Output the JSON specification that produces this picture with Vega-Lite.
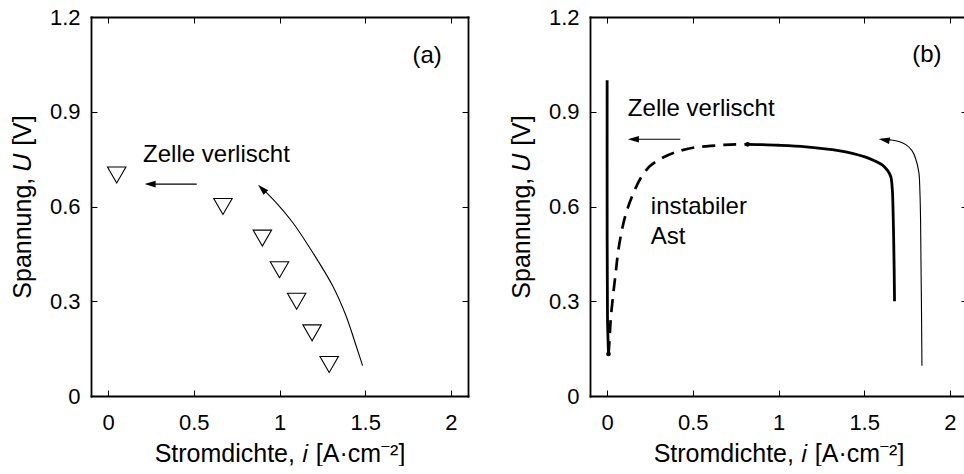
{
  "$schema": "https://vega.github.io/schema/vega-lite/v6.json",
  "padding": {"left": 10, "top": 6, "right": 0, "bottom": 0},
  "spacing": 40,
  "config": {
    "font": "Liberation Sans",
    "view": {"stroke": null},
    "axis": {
      "grid": false,
      "domainColor": "#000",
      "domainWidth": 1.8,
      "domainCap": "square",
      "tickColor": "#000",
      "tickWidth": 1,
      "tickSize": -6,
      "labelColor": "#000",
      "labelFont": "Liberation Sans",
      "labelFontSize": 22,
      "titleColor": "#000",
      "titleFont": "Liberation Sans",
      "titleFontSize": 25,
      "titleFontWeight": "normal"
    },
    "axisBottom": {"labelPadding": 22, "titlePadding": 8},
    "axisLeft": {"labelPadding": 17, "titlePadding": 14},
    "axisTop": {"labels": false},
    "axisRight": {"labels": false}
  },
  "hconcat": [
    {
      "width": 377,
      "height": 379,
      "layer": [
        {
          "data": {"values": [
            {"i": 0.05, "U": 0.7},
            {"i": 0.67, "U": 0.6},
            {"i": 0.9, "U": 0.5},
            {"i": 1.0, "U": 0.4},
            {"i": 1.1, "U": 0.3},
            {"i": 1.19, "U": 0.2},
            {"i": 1.29, "U": 0.1}
          ]},
          "mark": {"type": "point", "shape": "triangle-down", "filled": false, "stroke": "#000", "strokeWidth": 1.1, "size": 340, "opacity": 1},
          "encoding": {
            "x": {"field": "i", "type": "quantitative", "scale": {"domain": [-0.1, 2.1], "nice": false, "zero": false},
                  "axis": {"orient": "bottom", "values": [0, 0.5, 1, 1.5, 2], "format": "~g", "title": "Stromdichte, 𝑖 [A·cm⁻²]"}},
            "y": {"field": "U", "type": "quantitative", "scale": {"domain": [0, 1.2], "nice": false, "zero": false},
                  "axis": {"orient": "left", "values": [0, 0.3, 0.6, 0.9, 1.2], "format": "~g", "title": "Spannung, 𝑈 [V]"}}
          }
        },
        {
          "data": {"values": [
            {"pfeil": "verlischt", "k": 1, "i": 0.517, "U": 0.671},
            {"pfeil": "verlischt", "k": 2, "i": 0.23, "U": 0.671},
            {"pfeil": "kurve", "k": 1, "i": 1.485, "U": 0.096},
            {"pfeil": "kurve", "k": 2, "i": 1.447, "U": 0.159},
            {"pfeil": "kurve", "k": 3, "i": 1.388, "U": 0.254},
            {"pfeil": "kurve", "k": 4, "i": 1.31, "U": 0.349},
            {"pfeil": "kurve", "k": 5, "i": 1.193, "U": 0.455},
            {"pfeil": "kurve", "k": 6, "i": 1.076, "U": 0.55},
            {"pfeil": "kurve", "k": 7, "i": 0.979, "U": 0.613},
            {"pfeil": "kurve", "k": 8, "i": 0.895, "U": 0.659}
          ]},
          "mark": {"type": "line", "color": "#000", "strokeWidth": 1.1, "interpolate": "catmull-rom"},
          "encoding": {
            "x": {"field": "i", "type": "quantitative", "scale": {"domain": [-0.1, 2.1], "nice": false, "zero": false},
                  "axis": {"orient": "top", "values": [0, 0.5, 1, 1.5, 2], "title": null, "labels": false}},
            "y": {"field": "U", "type": "quantitative", "scale": {"domain": [0, 1.2], "nice": false, "zero": false},
                  "axis": {"orient": "right", "values": [0, 0.3, 0.6, 0.9, 1.2], "title": null, "labels": false}},
            "detail": {"field": "pfeil"},
            "order": {"field": "k", "type": "quantitative"}
          }
        },
        {
          "data": {"values": [{"i": 0.213, "U": 0.671}]},
          "mark": {"type": "point", "shape": "M0,0L2,-0.6L2,0.6Z", "filled": true, "color": "#000", "opacity": 1, "size": 121, "angle": 0},
          "encoding": {
            "x": {"field": "i", "type": "quantitative", "scale": {"domain": [-0.1, 2.1], "nice": false, "zero": false}, "axis": null},
            "y": {"field": "U", "type": "quantitative", "scale": {"domain": [0, 1.2], "nice": false, "zero": false}, "axis": null}
          }
        },
        {
          "data": {"values": [{"i": 0.875, "U": 0.669}]},
          "mark": {"type": "point", "shape": "M0,0L2,-0.6L2,0.6Z", "filled": true, "color": "#000", "opacity": 1, "size": 121, "angle": 45},
          "encoding": {
            "x": {"field": "i", "type": "quantitative", "scale": {"domain": [-0.1, 2.1], "nice": false, "zero": false}, "axis": null},
            "y": {"field": "U", "type": "quantitative", "scale": {"domain": [0, 1.2], "nice": false, "zero": false}, "axis": null}
          }
        },
        {
          "data": {"values": [
            {"text": "Zelle verlischt", "i": 0.204, "U": 0.741},
            {"text": "(a)", "i": 1.776, "U": 1.054}
          ]},
          "mark": {"type": "text", "align": "left", "baseline": "alphabetic", "fontSize": 24, "color": "#000"},
          "encoding": {
            "x": {"field": "i", "type": "quantitative", "scale": {"domain": [-0.1, 2.1], "nice": false, "zero": false}, "axis": null},
            "y": {"field": "U", "type": "quantitative", "scale": {"domain": [0, 1.2], "nice": false, "zero": false}, "axis": null},
            "text": {"field": "text"}
          }
        }
      ]
    },
    {
      "width": 377,
      "height": 379,
      "layer": [
        {
          "data": {"values": [
            {"zweig": "senkrecht", "k": 1, "i": 0.0, "U": 1.0},
            {"zweig": "senkrecht", "k": 2, "i": 0.0, "U": 0.6},
            {"zweig": "senkrecht", "k": 3, "i": 0.002, "U": 0.25},
            {"zweig": "senkrecht", "k": 4, "i": 0.008, "U": 0.133},
            {"zweig": "stabil", "k": 1, "i": 0.82, "U": 0.797},
            {"zweig": "stabil", "k": 2, "i": 1.0, "U": 0.794},
            {"zweig": "stabil", "k": 3, "i": 1.16, "U": 0.789},
            {"zweig": "stabil", "k": 4, "i": 1.35, "U": 0.777},
            {"zweig": "stabil", "k": 5, "i": 1.5, "U": 0.758},
            {"zweig": "stabil", "k": 6, "i": 1.56, "U": 0.745},
            {"zweig": "stabil", "k": 7, "i": 1.605, "U": 0.732},
            {"zweig": "stabil", "k": 8, "i": 1.635, "U": 0.715},
            {"zweig": "stabil", "k": 9, "i": 1.655, "U": 0.695},
            {"zweig": "stabil", "k": 10, "i": 1.664, "U": 0.655},
            {"zweig": "stabil", "k": 11, "i": 1.668, "U": 0.6},
            {"zweig": "stabil", "k": 12, "i": 1.672, "U": 0.5},
            {"zweig": "stabil", "k": 13, "i": 1.675, "U": 0.4},
            {"zweig": "stabil", "k": 14, "i": 1.677, "U": 0.3}
          ]},
          "mark": {"type": "line", "color": "#000", "strokeWidth": 2.8, "interpolate": "catmull-rom"},
          "encoding": {
            "x": {"field": "i", "type": "quantitative", "scale": {"domain": [-0.1, 2.1], "nice": false, "zero": false},
                  "axis": {"orient": "bottom", "values": [0, 0.5, 1, 1.5, 2], "format": "~g", "title": "Stromdichte, 𝑖 [A·cm⁻²]"}},
            "y": {"field": "U", "type": "quantitative", "scale": {"domain": [0, 1.2], "nice": false, "zero": false},
                  "axis": {"orient": "left", "values": [0, 0.3, 0.6, 0.9, 1.2], "format": "~g", "title": "Spannung, 𝑈 [V]"}},
            "detail": {"field": "zweig"},
            "order": {"field": "k", "type": "quantitative"}
          }
        },
        {
          "data": {"values": [
            {"k": 1, "i": 0.008, "U": 0.133},
            {"k": 2, "i": 0.013, "U": 0.17},
            {"k": 3, "i": 0.021, "U": 0.244},
            {"k": 4, "i": 0.035, "U": 0.32},
            {"k": 5, "i": 0.05, "U": 0.39},
            {"k": 6, "i": 0.065, "U": 0.46},
            {"k": 7, "i": 0.092, "U": 0.54},
            {"k": 8, "i": 0.12, "U": 0.595},
            {"k": 9, "i": 0.15, "U": 0.638},
            {"k": 10, "i": 0.196, "U": 0.69},
            {"k": 11, "i": 0.25, "U": 0.728},
            {"k": 12, "i": 0.315, "U": 0.752},
            {"k": 13, "i": 0.4, "U": 0.772},
            {"k": 14, "i": 0.5, "U": 0.786},
            {"k": 15, "i": 0.626, "U": 0.793},
            {"k": 16, "i": 0.72, "U": 0.796},
            {"k": 17, "i": 0.82, "U": 0.797}
          ]},
          "mark": {"type": "line", "color": "#000", "strokeWidth": 2.7, "strokeDash": [13, 8], "interpolate": "catmull-rom"},
          "encoding": {
            "x": {"field": "i", "type": "quantitative", "scale": {"domain": [-0.1, 2.1], "nice": false, "zero": false},
                  "axis": {"orient": "top", "values": [0, 0.5, 1, 1.5, 2], "title": null, "labels": false}},
            "y": {"field": "U", "type": "quantitative", "scale": {"domain": [0, 1.2], "nice": false, "zero": false},
                  "axis": {"orient": "right", "values": [0, 0.3, 0.6, 0.9, 1.2], "title": null, "labels": false}},
            "order": {"field": "k", "type": "quantitative"}
          }
        },
        {
          "data": {"values": [
            {"i": 0.008, "U": 0.133},
            {"i": 0.82, "U": 0.797}
          ]},
          "mark": {"type": "point", "shape": "circle", "filled": true, "color": "#000", "opacity": 1, "size": 22},
          "encoding": {
            "x": {"field": "i", "type": "quantitative", "scale": {"domain": [-0.1, 2.1], "nice": false, "zero": false}, "axis": null},
            "y": {"field": "U", "type": "quantitative", "scale": {"domain": [0, 1.2], "nice": false, "zero": false}, "axis": null}
          }
        },
        {
          "data": {"values": [
            {"pfeil": "verlischt", "k": 1, "i": 0.427, "U": 0.813},
            {"pfeil": "verlischt", "k": 2, "i": 0.14, "U": 0.813},
            {"pfeil": "kurve", "k": 1, "i": 1.837, "U": 0.096},
            {"pfeil": "kurve", "k": 2, "i": 1.834, "U": 0.3},
            {"pfeil": "kurve", "k": 3, "i": 1.831, "U": 0.45},
            {"pfeil": "kurve", "k": 4, "i": 1.829, "U": 0.56},
            {"pfeil": "kurve", "k": 5, "i": 1.825, "U": 0.65},
            {"pfeil": "kurve", "k": 6, "i": 1.819, "U": 0.708},
            {"pfeil": "kurve", "k": 7, "i": 1.8, "U": 0.752},
            {"pfeil": "kurve", "k": 8, "i": 1.78, "U": 0.776},
            {"pfeil": "kurve", "k": 9, "i": 1.745, "U": 0.795},
            {"pfeil": "kurve", "k": 10, "i": 1.703, "U": 0.806},
            {"pfeil": "kurve", "k": 11, "i": 1.65, "U": 0.811},
            {"pfeil": "kurve", "k": 12, "i": 1.6, "U": 0.813}
          ]},
          "mark": {"type": "line", "color": "#000", "strokeWidth": 1.1, "interpolate": "catmull-rom"},
          "encoding": {
            "x": {"field": "i", "type": "quantitative", "scale": {"domain": [-0.1, 2.1], "nice": false, "zero": false}, "axis": null},
            "y": {"field": "U", "type": "quantitative", "scale": {"domain": [0, 1.2], "nice": false, "zero": false}, "axis": null},
            "detail": {"field": "pfeil"},
            "order": {"field": "k", "type": "quantitative"}
          }
        },
        {
          "data": {"values": [{"i": 0.121, "U": 0.813}]},
          "mark": {"type": "point", "shape": "M0,0L2,-0.6L2,0.6Z", "filled": true, "color": "#000", "opacity": 1, "size": 121, "angle": 0},
          "encoding": {
            "x": {"field": "i", "type": "quantitative", "scale": {"domain": [-0.1, 2.1], "nice": false, "zero": false}, "axis": null},
            "y": {"field": "U", "type": "quantitative", "scale": {"domain": [0, 1.2], "nice": false, "zero": false}, "axis": null}
          }
        },
        {
          "data": {"values": [{"i": 1.585, "U": 0.814}]},
          "mark": {"type": "point", "shape": "M0,0L2,-0.6L2,0.6Z", "filled": true, "color": "#000", "opacity": 1, "size": 121, "angle": 10},
          "encoding": {
            "x": {"field": "i", "type": "quantitative", "scale": {"domain": [-0.1, 2.1], "nice": false, "zero": false}, "axis": null},
            "y": {"field": "U", "type": "quantitative", "scale": {"domain": [0, 1.2], "nice": false, "zero": false}, "axis": null}
          }
        },
        {
          "data": {"values": [
            {"text": "Zelle verlischt", "i": 0.121, "U": 0.887},
            {"text": "instabiler", "i": 0.255, "U": 0.576},
            {"text": "Ast", "i": 0.255, "U": 0.481},
            {"text": "(b)", "i": 1.78, "U": 1.056}
          ]},
          "mark": {"type": "text", "align": "left", "baseline": "alphabetic", "fontSize": 24, "color": "#000"},
          "encoding": {
            "x": {"field": "i", "type": "quantitative", "scale": {"domain": [-0.1, 2.1], "nice": false, "zero": false}, "axis": null},
            "y": {"field": "U", "type": "quantitative", "scale": {"domain": [0, 1.2], "nice": false, "zero": false}, "axis": null},
            "text": {"field": "text"}
          }
        }
      ]
    }
  ]
}
